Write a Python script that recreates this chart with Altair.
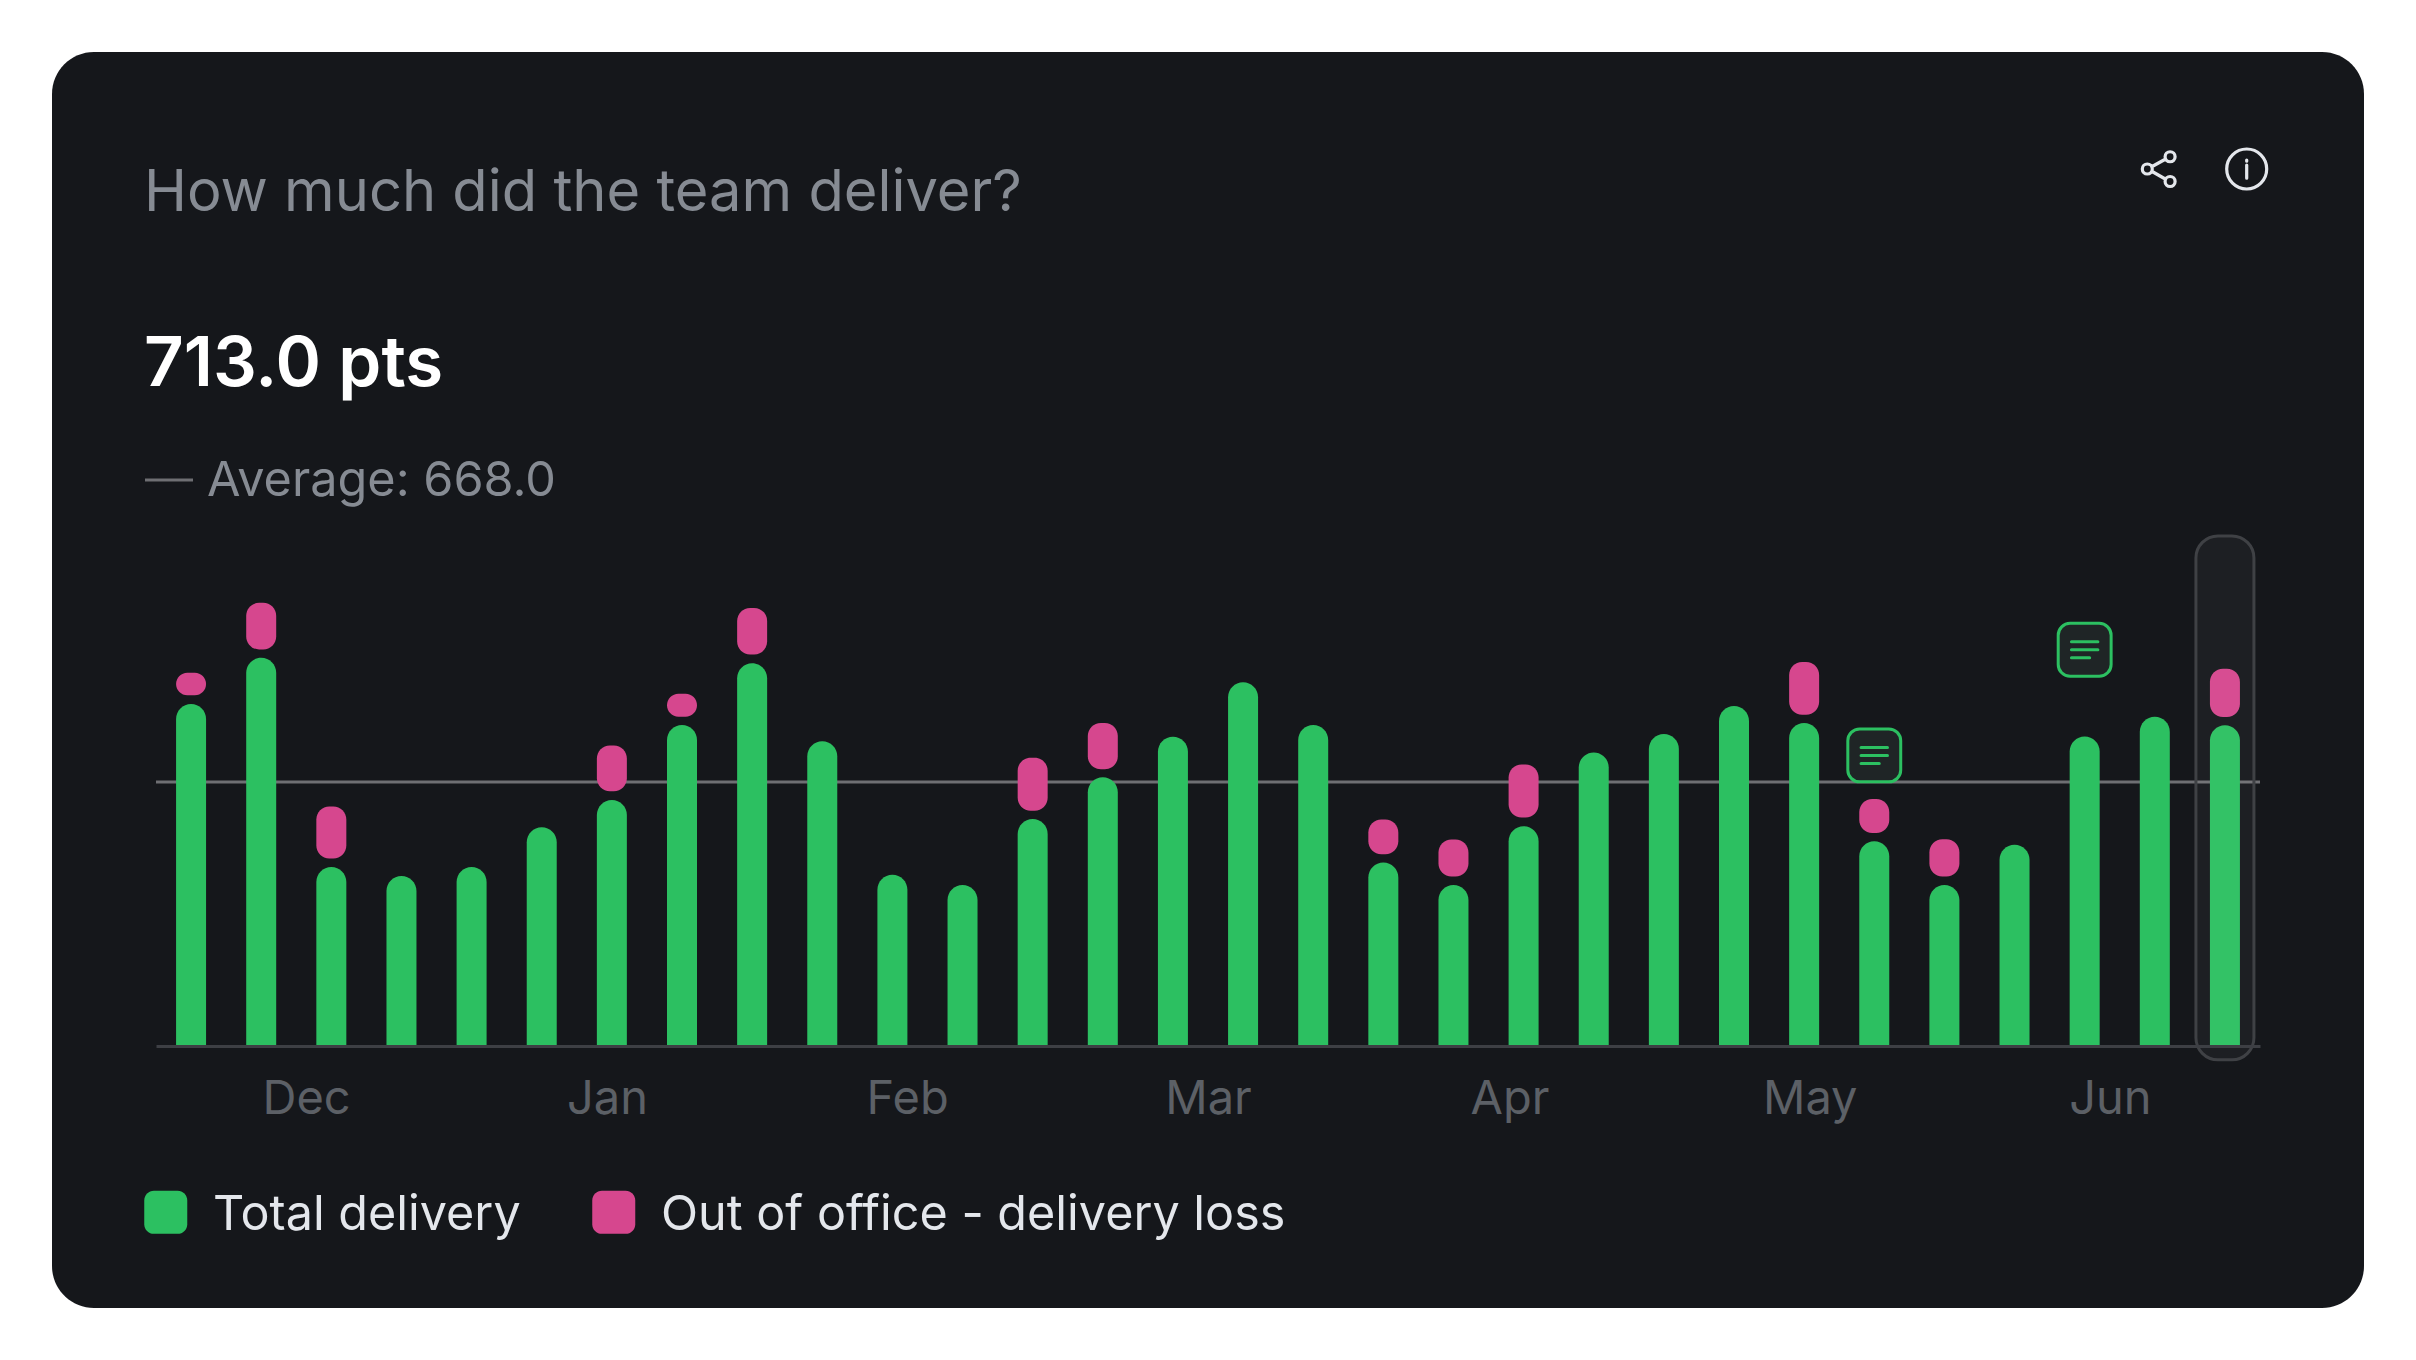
import altair as alt
import pandas as pd

# ---------- values ----------
total = [865, 982, 453, 430, 453, 553, 622, 812, 968, 771, 433, 407, 574, 680, 782,
         920, 812, 464, 407, 556, 742, 789, 860, 817, 518, 407, 509, 783, 833, 811]
loss_index = [0, 1, 2, 6, 7, 8, 12, 13, 17, 18, 19, 23, 24, 25, 29]
loss_low = [887, 1003, 474, 644, 833, 990, 595, 700, 485, 429, 578, 838, 539, 429, 832]
loss_high = [944, 1121, 606, 760, 891, 1108, 729, 817, 573, 522, 712, 971, 625, 523, 954]
average = [668]
note_index = [24, 27]
note_value = [735, 1002]
month_pos = [1.64, 5.93, 10.21, 14.5, 18.8, 23.08, 27.36]
months = ["Dec", "Jan", "Feb", "Mar", "Apr", "May", "Jun"]
series = ["Total delivery", "Out of office - delivery loss"]
series_colors = ["#2cc061", "#d6478e"]
highlight_index = [29]
highlight_low = [-35]
highlight_high = [1290]

title_text = "How much did the team deliver?"
value_text = "713.0 pts"
avg_text = "Average: 668.0"

FONT = "Inter"
CARD = "#15171b"

ROUND_SQ = ("M-0.55,-1 H0.55 A0.45,0.45 0 0 1 1,-0.55 V0.55 A0.45,0.45 0 0 1 0.55,1 "
            "H-0.55 A0.45,0.45 0 0 1 -1,0.55 V-0.55 A0.45,0.45 0 0 1 -0.55,-1 Z")
LEGEND_SQ = ("M-0.55,-1.14 H0.55 A0.45,0.45 0 0 1 1,-0.69 V0.41 A0.45,0.45 0 0 1 0.55,0.86 "
             "H-0.55 A0.45,0.45 0 0 1 -1,0.41 V-0.69 A0.45,0.45 0 0 1 -0.55,-1.14 Z")
NOTE_LINES = "M-0.49,-0.296 H0.49 M-0.49,0 H0.49 M-0.49,0.296 H0.185"
SHARE = ("M-0.656,0 A0.2,0.2 0 1 1 -0.256,0 A0.2,0.2 0 1 1 -0.656,0 Z "
         "M0.256,-0.49 A0.2,0.2 0 1 1 0.656,-0.49 A0.2,0.2 0 1 1 0.256,-0.49 Z "
         "M0.256,0.5 A0.2,0.2 0 1 1 0.656,0.5 A0.2,0.2 0 1 1 0.256,0.5 Z "
         "M-0.28,-0.09 L0.28,-0.4 M-0.28,0.09 L0.28,0.41")
INFO = ("M-0.8,0 A0.8,0.8 0 1 1 0.8,0 A0.8,0.8 0 1 1 -0.8,0 Z "
        "M0,-0.16 V0.37 M0,-0.36 V-0.31")

# plot area position on the page (page margin 8px)
LEFT, TOP, W, H = 156, 532, 2104, 514

green = pd.DataFrame({"i": list(range(len(total))), "low": [0] * len(total), "high": total,
                      "series": series[0]})
pink = pd.DataFrame({"i": loss_index, "low": loss_low, "high": loss_high, "series": series[1]})
notes = pd.DataFrame({"i": note_index, "v": note_value})
hl = pd.DataFrame({"i": highlight_index, "low": highlight_low, "high": highlight_high})
avg = pd.DataFrame({"v": average})

xscale = alt.Scale(domain=[-0.5, 29.5], nice=False, zero=False, padding=0)
yscale = alt.Scale(domain=[0, 1300], nice=False, zero=False, padding=0)
label_expr = "{" + ",".join(f"'{p}':'{m}'" for p, m in zip(month_pos, months)) + "}[''+datum.value]"

x_axis = alt.Axis(values=month_pos, labelExpr=label_expr, title=None, grid=False, ticks=False,
                  domainColor="#3d3f44", domainWidth=3, labelColor="#5c6066", labelFont=FONT,
                  labelFontSize=47, labelPadding=30, labelOverlap=False, labelFlush=False,
                  labelAlign="center", zindex=1)
X = alt.X("i:Q", scale=xscale, axis=x_axis)
Y = alt.Y("low:Q", scale=yscale, axis=None, stack=None)
color = alt.Color("series:N",
                  scale=alt.Scale(domain=series, range=series_colors),
                  legend=alt.Legend(title=None, orient="none", legendX=-14.5, legendY=659,
                                    direction="horizontal", columns=2, columnPadding=68,
                                    symbolType=LEGEND_SQ, symbolSize=1850, symbolStrokeWidth=0,
                                    symbolOpacity=1,
                                    labelFont=FONT, labelFontSize=48.5, labelColor="#e4e7ec",
                                    labelLimit=1000, labelOffset=23, padding=0))

card = alt.Chart(avg).mark_rect(fill=CARD, cornerRadius=42).encode(
    x=alt.value(52 - LEFT), x2=alt.value(2364 - LEFT),
    y=alt.value(52 - TOP), y2=alt.value(1308 - TOP))

avg_rule = alt.Chart(avg).mark_rule(color="#6e6f73", strokeWidth=3).encode(
    y=alt.Y("v:Q", scale=yscale, axis=None))

green_bars = alt.Chart(green).mark_bar(size=30, cornerRadiusTopLeft=15, cornerRadiusTopRight=15).encode(
    x=X, y=alt.Y("high:Q", scale=yscale, axis=None, stack=None),
    y2="low:Q", color=color)

pink_bars = alt.Chart(pink).mark_bar(size=30, cornerRadius=13).encode(
    x=X, y=Y, y2="high:Q", color=color)

highlight = alt.Chart(hl).mark_bar(size=58, cornerRadius=22, fill="#ffffff", fillOpacity=0.035,
                                   stroke="#3f4145", strokeWidth=3).encode(
    x=X, y=Y, y2="high:Q")

note_box = alt.Chart(notes).mark_point(shape=ROUND_SQ, size=2800, fill="#1f2526", fillOpacity=1,
                                       stroke="#2cc061", strokeWidth=3, opacity=1).encode(
    x=X, y=alt.Y("v:Q", scale=yscale, axis=None))
note_lines = alt.Chart(notes).mark_point(shape=NOTE_LINES, size=2916, filled=False,
                                         stroke="#2cc061", strokeWidth=3, opacity=1,
                                         strokeCap="round").encode(
    x=X, y=alt.Y("v:Q", scale=yscale, axis=None))


def label(text, x, y, size, color_, weight=400):
    return alt.Chart(avg).mark_text(align="left", baseline="alphabetic", font=FONT, fontSize=size,
                                    fontWeight=weight, color=color_).encode(
        x=alt.value(x - LEFT), y=alt.value(y - TOP), text=alt.value(text))


def icon(path, x, y):
    return alt.Chart(avg).mark_point(shape=path, size=2500, filled=False, stroke="#e4e7ec",
                                     strokeWidth=3.2, opacity=1, strokeCap="round").encode(
        x=alt.value(x - LEFT), y=alt.value(y - TOP))


title_mark = label(title_text, 144, 211, 57.8, "#868b93")
value_mark = label(value_text, 144, 386, 69, "#ffffff", 600)
avg_mark = label(avg_text, 207, 496, 48.6, "#868b93")
dash = alt.Chart(avg).mark_rule(color="#6e6f73", strokeWidth=3).encode(
    x=alt.value(145 - LEFT), x2=alt.value(193 - LEFT), y=alt.value(480 - TOP))
share_icon = icon(SHARE, 2158.7, 169)
info_icon = icon(INFO, 2246.7, 169)

chart = alt.layer(
    card, avg_rule, green_bars, pink_bars, highlight, note_box, note_lines,
    title_mark, value_mark, avg_mark, dash, share_icon, info_icon,
).properties(
    width=W, height=H,
    padding={"left": LEFT - 8, "top": TOP - 8, "right": 148, "bottom": 290},
    autosize=alt.AutoSizeParams(type="none"),
    background="#ffffff",
).configure_view(stroke=None)

chart.save("out.html", embed_options={"renderer": "svg", "actions": False})
